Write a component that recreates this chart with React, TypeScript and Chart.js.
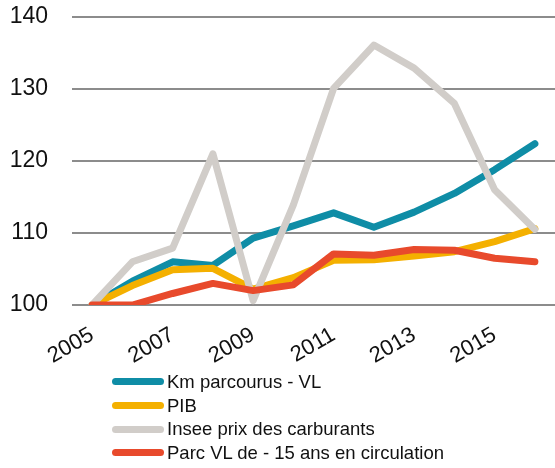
import React, { useEffect, useRef } from "react";
import { Chart, registerables } from "chart.js";

Chart.register(...registerables);

const years = ["2005", "2006", "2007", "2008", "2009", "2010", "2011", "2012", "2013", "2014", "2015", "2016"];
const kmParcourus = [100, 103.3, 106.0, 105.5, 109.3, 111.0, 112.8, 110.8, 112.9, 115.5, 118.8, 122.4];
const pib = [100, 102.7, 104.9, 105.1, 102.2, 103.8, 106.2, 106.3, 106.8, 107.4, 108.8, 110.6];
const prixCarburants = [100, 106.0, 107.9, 121.0, 100.6, 113.9, 130.1, 136.1, 132.9, 128.0, 116.0, 110.5];
const parcVL = [100, 100.0, 101.6, 103.0, 102.0, 102.8, 107.1, 106.9, 107.7, 107.6, 106.5, 106.0];
const yTicks = [100, 110, 120, 130, 140];

const seriesNames = ["Km parcourus - VL", "PIB", "Insee prix des carburants", "Parc VL de - 15 ans en circulation"];
const seriesColors = ["#0f8da6", "#f4b000", "#d1cdc9", "#e84a2c"];
const seriesData = [kmParcourus, pib, prixCarburants, parcVL];

const FONT = "'Liberation Sans', Arial, sans-serif";

export default function App() {
  const ref = useRef<HTMLCanvasElement>(null);
  useEffect(() => {
    if (!ref.current) return;
    const chart = new Chart(ref.current, {
      type: "line",
      data: {
        labels: years,
        datasets: seriesNames.map((name, i) => ({
          label: name,
          data: seriesData[i],
          borderColor: seriesColors[i],
          backgroundColor: seriesColors[i],
          borderWidth: 7,
          pointRadius: 0,
          tension: 0,
          borderCapStyle: "round" as const,
          borderJoinStyle: "round" as const,
          order: seriesNames.length - i,
        })),
      },
      options: {
        responsive: false,
        animation: false,
        layout: { padding: { top: 17, right: 0, left: 0, bottom: 0 } },
        plugins: { legend: { display: false }, tooltip: { enabled: false } },
        scales: {
          x: {
            offset: true,
            grid: { display: false },
            border: { display: false },
            afterFit: (s: any) => { s.height = 70; s.paddingLeft = 0; s.paddingRight = 0; },
            ticks: {
              autoSkip: false,
              maxRotation: 30,
              minRotation: 30,
              padding: 9,
              color: "#111",
              font: { family: FONT, size: 22 },
              callback: (_v: any, i: number) => (i % 2 === 0 ? years[i] : ""),
            },
          },
          y: {
            min: 100,
            max: 140,
            afterBuildTicks: (s: any) => { s.ticks = yTicks.map((v) => ({ value: v })); },
            afterFit: (s: any) => { s.width = 72; s.paddingTop = 0; s.paddingBottom = 0; },
            grid: { color: "#8c8c8c", lineWidth: 2, drawTicks: false },
            border: { display: false },
            ticks: {
              padding: 24,
              color: "#111",
              font: { family: FONT, size: 23 },
            },
          },
        },
      },
    });
    return () => chart.destroy();
  }, []);

  return (
    <div style={{ position: "fixed", left: 0, top: 0, width: 555, height: 468, background: "#fff" }}>
      <canvas ref={ref} width={555} height={375} style={{ display: "block" }} />
      <div style={{ position: "absolute", left: 112, top: 370, fontFamily: FONT, fontSize: 18.5, color: "#111" }}>
        {seriesNames.map((n, i) => (
          <div key={n} style={{ display: "flex", alignItems: "center", height: 23.7 }}>
            <span style={{ display: "inline-block", width: 52, height: 7, borderRadius: 4, background: seriesColors[i], marginRight: 3 }} />
            <span>{n}</span>
          </div>
        ))}
      </div>
    </div>
  );
}
